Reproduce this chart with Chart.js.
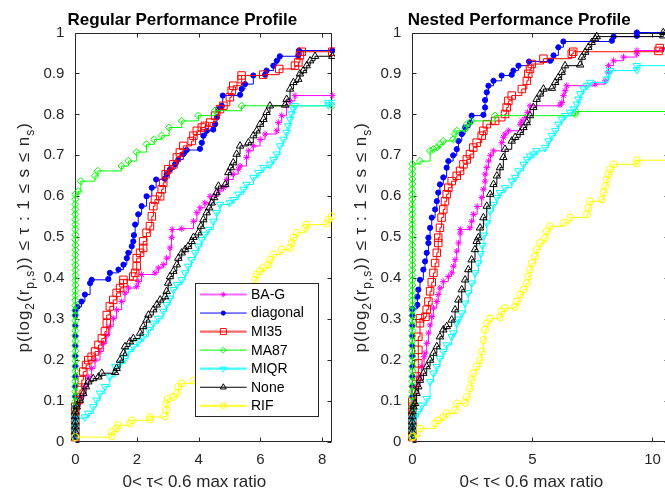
<!DOCTYPE html>
<html><head><meta charset="utf-8">
<script src="https://cdn.jsdelivr.net/npm/chart.js@4"></script>
<style>
html,body{margin:0;padding:0;background:#fff;overflow:hidden;}
#wrap{position:relative;width:665px;height:491px;overflow:hidden;background:#fff;}
.pane{position:absolute;top:0;width:335px;height:491px;}
</style></head><body>
<div id="wrap">
<div class="pane" style="left:0"><canvas id="cl" width="335" height="491"></canvas></div>
<div class="pane" style="left:335px"><canvas id="cr" width="335" height="491"></canvas></div>
</div>
<script>
// ---------- data ----------
const seriesNames = ['BA-G','diagonal','MI35','MA87','MIQR','None','RIF'];
const yTicks = [0,0.1,0.2,0.3,0.4,0.5,0.6,0.7,0.8,0.9,1];
const yTickLabels = ['0','0.1','0.2','0.3','0.4','0.5','0.6','0.7','0.8','0.9','1'];
const xTicksLeft = [0,2,4,6,8];
const xTickLabelsLeft = ['0','2','4','6','8'];
const xTicksRight = [0,5,10];
const xTickLabelsRight = ['0','5','10'];
const xMaxLeft = 8.33;
const xMaxRight = 10.7;
const titleLeft = 'Regular Performance Profile';
const titleRight = 'Nested Performance Profile';
const xLabel = '0< \u03c4< 0.6 max ratio';

// Regular profile
const L_BAG = [[0,0.012],[0,0.025],[0,0.037],[0,0.049],[0,0.062],[0,0.074],[0,0.086],
[0.15,0.11],[0.31,0.135],[0.42,0.159],[0.53,0.18],[0.64,0.2],[0.8,0.221],[0.91,0.241],[1.02,0.261],[1.12,0.282],[1.23,0.302],[1.34,0.323],[1.5,0.343],[1.61,0.364],[1.72,0.376],[1.99,0.38],[2.04,0.392],[2.15,0.409],[2.58,0.413],[2.69,0.425],[2.85,0.433],[2.96,0.449],[3.07,0.474],[3.12,0.499],[3.14,0.519],[3.45,0.521],[3.83,0.539],[3.94,0.56],[4.04,0.572],[4.2,0.584],[4.37,0.6],[4.64,0.613],[4.8,0.621],[4.91,0.641],[5.12,0.654],[5.28,0.666],[5.34,0.674],[5.55,0.695],[5.61,0.711],[5.77,0.723],[5.99,0.739],[6.15,0.752],[6.53,0.76],[6.58,0.78],[6.69,0.797],[6.85,0.821],[6.96,0.833],[7.12,0.846],[8.33,0.846]];
const L_DIAG = [[0,0.012],[0,0.037],[0,0.062],[0,0.086],[0,0.111],[0,0.136],[0,0.16],[0,0.185],[0,0.21],[0,0.235],[0,0.259],[0,0.284],[0,0.309],[0,0.321],
[0.07,0.33],[0.2,0.343],[0.31,0.36],[0.48,0.388],[0.53,0.396],[1.07,0.398],[1.12,0.413],[1.4,0.421],[1.56,0.433],[1.67,0.449],[1.72,0.462],[1.83,0.478],[1.88,0.49],[1.9,0.505],[1.94,0.531],[2.04,0.556],[2.15,0.576],[2.31,0.6],[2.48,0.621],[2.62,0.641],[2.9,0.643],[2.96,0.654],[3.07,0.666],[3.23,0.678],[3.34,0.69],[3.5,0.703],[3.61,0.713],[4.04,0.716],[4.1,0.731],[4.15,0.748],[4.26,0.76],[4.47,0.763],[4.53,0.776],[4.59,0.793],[4.64,0.813],[4.75,0.821],[4.78,0.846],[5.34,0.848],[5.39,0.862],[5.5,0.874],[5.77,0.895],[6.15,0.897],[6.2,0.907],[6.42,0.919],[6.53,0.931],[6.63,0.942],[7.23,0.944],[7.25,0.956],[8.33,0.956]];
const L_MI35 = [[0,0.012],[0,0.025],[0,0.037],[0,0.049],[0,0.062],[0,0.074],[0,0.086],
[0.1,0.102],[0.15,0.127],[0.21,0.151],[0.26,0.172],[0.35,0.188],[0.42,0.2],[0.53,0.208],[0.64,0.221],[0.75,0.237],[0.86,0.253],[0.96,0.27],[1.02,0.29],[1.02,0.31],[1.12,0.331],[1.23,0.347],[1.34,0.364],[1.45,0.376],[1.56,0.388],[1.56,0.396],[1.88,0.404],[1.94,0.413],[1.99,0.429],[1.99,0.449],[2.1,0.462],[2.2,0.474],[2.2,0.49],[2.31,0.511],[2.42,0.527],[2.48,0.551],[2.53,0.576],[2.58,0.592],[2.75,0.6],[2.8,0.617],[2.85,0.633],[2.93,0.654],[3.01,0.666],[3.18,0.678],[3.29,0.695],[3.39,0.707],[3.5,0.723],[3.77,0.735],[3.83,0.748],[3.94,0.76],[4.1,0.768],[4.2,0.772],[4.37,0.78],[4.53,0.797],[4.69,0.813],[4.8,0.821],[5.01,0.842],[5.07,0.858],[5.12,0.87],[5.39,0.886],[5.39,0.895],[6.09,0.897],[6.61,0.911],[7.12,0.919],[7.23,0.927],[7.28,0.944],[7.34,0.953],[8.33,0.953]];
const L_MA87 = [[0,0.012],[0,0.025],[0,0.037],[0,0.049],[0,0.062],[0,0.074],[0,0.086],[0,0.099],[0,0.111],[0,0.123],[0,0.136],[0,0.148],[0,0.16],[0,0.173],[0,0.185],[0,0.198],[0,0.21],[0,0.222],[0,0.235],[0,0.247],[0,0.259],[0,0.272],[0,0.284],[0,0.296],[0,0.309],[0,0.321],[0,0.333],[0,0.346],[0,0.358],[0,0.37],[0,0.383],[0,0.395],[0,0.407],[0,0.42],[0,0.432],[0,0.444],[0,0.457],[0,0.469],[0,0.481],[0,0.494],[0,0.506],[0,0.519],[0,0.531],[0,0.543],[0,0.556],[0,0.568],[0,0.58],[0,0.593],[0,0.605],
[0.1,0.612],[0.18,0.637],[0.64,0.65],[0.73,0.662],[1.5,0.674],[1.72,0.686],[1.99,0.708],[2.31,0.727],[2.56,0.739],[2.8,0.748],[3.04,0.768],[3.45,0.784],[3.99,0.797],[4.53,0.809],[5.39,0.821],[8.33,0.821]];
const L_MIQR = [[0,0.012],[0,0.025],[0,0.037],[0,0.049],[0,0.058],
[0.31,0.061],[0.42,0.07],[0.58,0.086],[0.69,0.102],[0.8,0.119],[0.96,0.135],[1.12,0.159],[1.29,0.184],[1.45,0.192],[1.61,0.204],[1.72,0.221],[1.88,0.233],[2.04,0.245],[2.2,0.257],[2.37,0.274],[2.53,0.29],[2.69,0.302],[2.85,0.319],[2.96,0.335],[3.07,0.351],[3.18,0.372],[3.29,0.384],[3.45,0.396],[3.56,0.413],[3.66,0.429],[3.77,0.445],[3.88,0.462],[3.99,0.478],[4.1,0.494],[4.2,0.507],[4.31,0.519],[4.47,0.539],[4.58,0.56],[4.69,0.58],[5.0,0.584],[5.12,0.592],[5.28,0.605],[5.45,0.617],[5.55,0.629],[5.77,0.646],[5.93,0.658],[6.09,0.67],[6.31,0.678],[6.42,0.69],[6.53,0.703],[6.63,0.723],[6.74,0.739],[6.85,0.756],[6.9,0.772],[6.96,0.788],[7.01,0.801],[7.07,0.813],[7.12,0.821],[8.2,0.823],[8.2,0.829],[8.33,0.829]];
const L_NONE = [[0,0.012],[0,0.025],[0,0.037],[0,0.049],[0,0.062],[0,0.074],
[0.05,0.086],[0.15,0.102],[0.26,0.119],[0.35,0.135],[0.42,0.147],[0.58,0.155],[0.75,0.159],[0.86,0.168],[1.29,0.17],[1.34,0.18],[1.45,0.2],[1.56,0.217],[1.61,0.233],[1.77,0.245],[1.88,0.253],[2.1,0.266],[2.2,0.282],[2.31,0.298],[2.37,0.31],[2.53,0.323],[2.64,0.335],[2.75,0.347],[2.91,0.355],[2.96,0.368],[3.01,0.388],[3.07,0.404],[3.18,0.417],[3.29,0.433],[3.34,0.449],[3.45,0.462],[3.56,0.47],[3.66,0.478],[3.77,0.49],[3.83,0.5],[3.99,0.511],[4.07,0.527],[4.15,0.543],[4.26,0.56],[4.34,0.572],[4.42,0.584],[4.5,0.597],[4.58,0.609],[4.64,0.625],[4.86,0.629],[4.96,0.658],[5.04,0.67],[5.12,0.682],[5.23,0.703],[5.34,0.723],[5.61,0.731],[5.77,0.748],[5.88,0.76],[5.99,0.776],[6.1,0.788],[6.2,0.805],[6.31,0.821],[6.8,0.823],[6.85,0.837],[6.96,0.862],[7.07,0.878],[7.23,0.886],[7.28,0.899],[7.39,0.907],[7.5,0.919],[7.61,0.931],[7.77,0.942],[8.33,0.942]];
const L_RIF = [[0,0.012],[1.18,0.014],[1.18,0.025],[1.34,0.033],[1.39,0.041],[1.77,0.045],[1.83,0.053],[2.42,0.055],[2.42,0.061],[2.9,0.063],[2.96,0.078],[2.96,0.094],[3.0,0.105],[3.18,0.11],[3.29,0.119],[3.34,0.135],[3.45,0.143],[3.83,0.15],[4.0,0.17],[4.3,0.22],[4.6,0.26],[4.9,0.3],[5.2,0.33],[5.5,0.36],[5.83,0.396],[5.88,0.409],[5.99,0.417],[6.09,0.425],[6.26,0.433],[6.31,0.445],[6.42,0.458],[6.69,0.47],[6.96,0.474],[7.01,0.486],[7.07,0.499],[7.18,0.511],[7.45,0.523],[7.5,0.531],[8.15,0.533],[8.2,0.543],[8.31,0.551]];

// Nested profile
const R_BAG = [[0,0.012],[0,0.025],[0,0.037],[0,0.049],[0,0.062],[0,0.074],
[0.05,0.1],[0.15,0.135],[0.25,0.159],[0.39,0.184],[0.49,0.208],[0.53,0.217],[0.6,0.241],[0.67,0.266],[0.74,0.286],[0.81,0.306],[0.88,0.327],[1.02,0.343],[1.08,0.36],[1.15,0.376],[1.29,0.392],[1.5,0.404],[1.64,0.413],[1.71,0.429],[1.78,0.445],[1.85,0.466],[1.92,0.486],[1.99,0.51],[2.0,0.519],[2.4,0.523],[2.47,0.539],[2.54,0.556],[2.7,0.575],[2.89,0.597],[2.96,0.617],[3.03,0.637],[3.03,0.654],[3.1,0.67],[3.17,0.686],[3.25,0.7],[3.38,0.711],[3.72,0.731],[3.79,0.744],[3.86,0.752],[4.0,0.76],[4.49,0.776],[4.56,0.784],[4.7,0.793],[4.8,0.805],[4.9,0.821],[6.15,0.823],[6.22,0.829],[6.29,0.846],[6.36,0.858],[6.43,0.87],[7.61,0.874],[8.03,0.882],[8.17,0.903],[8.17,0.919],[8.38,0.931],[8.79,0.94],[9.35,0.948],[9.35,0.956],[10.46,0.96],[10.7,0.96]];
const R_DIAG = [[0,0.012],[0,0.037],[0,0.062],[0,0.086],[0,0.111],[0,0.136],[0,0.16],[0,0.185],[0,0.21],[0,0.235],[0,0.259],[0,0.284],[0,0.309],[0,0.325],
[0.21,0.335],[0.21,0.355],[0.25,0.372],[0.32,0.396],[0.46,0.421],[0.53,0.441],[0.6,0.462],[0.67,0.486],[0.67,0.499],[0.74,0.523],[0.81,0.548],[0.95,0.568],[1.02,0.588],[1.08,0.609],[1.15,0.629],[1.29,0.646],[1.43,0.67],[1.5,0.686],[1.7,0.7],[1.85,0.715],[1.92,0.735],[2.06,0.752],[2.2,0.768],[2.4,0.78],[2.47,0.797],[2.96,0.799],[3.03,0.817],[3.03,0.835],[3.1,0.854],[3.17,0.87],[3.38,0.882],[3.72,0.895],[4.14,0.897],[4.21,0.907],[4.42,0.919],[4.86,0.929],[5.74,0.931],[5.88,0.944],[6.08,0.964],[6.29,0.978],[8.31,0.98],[8.38,0.99],[9.35,0.992],[9.35,1.0],[10.7,1.0]];
const R_MI35 = [[0,0.012],[0,0.025],[0,0.037],[0,0.049],[0,0.062],[0,0.074],[0,0.086],[0,0.099],
[0.11,0.127],[0.18,0.16],[0.25,0.192],[0.25,0.225],[0.25,0.257],[0.32,0.29],[0.32,0.302],[0.55,0.306],[0.6,0.323],[0.67,0.343],[0.74,0.368],[0.81,0.39],[0.88,0.413],[0.95,0.437],[1.02,0.462],[1.08,0.486],[1.08,0.499],[1.15,0.523],[1.22,0.548],[1.29,0.568],[1.36,0.588],[1.43,0.605],[1.5,0.621],[1.64,0.637],[1.85,0.65],[1.99,0.662],[2.13,0.678],[2.27,0.69],[2.4,0.703],[2.54,0.719],[2.68,0.731],[2.89,0.748],[2.96,0.76],[3.1,0.776],[3.45,0.784],[3.86,0.801],[3.93,0.817],[4.0,0.833],[4.14,0.846],[4.56,0.862],[4.77,0.882],[4.83,0.899],[4.9,0.911],[4.97,0.923],[5.46,0.936],[6.64,0.948],[6.7,0.953],[10.25,0.955],[10.3,0.962],[10.7,0.962]];
const R_MA87 = [[0,0.012],[0,0.025],[0,0.037],[0,0.049],[0,0.062],[0,0.074],[0,0.086],[0,0.099],[0,0.111],[0,0.123],[0,0.136],[0,0.148],[0,0.16],[0,0.173],[0,0.185],[0,0.198],[0,0.21],[0,0.222],[0,0.235],[0,0.247],[0,0.259],[0,0.272],[0,0.284],[0,0.296],[0,0.309],[0,0.321],[0,0.333],[0,0.346],[0,0.358],[0,0.37],[0,0.383],[0,0.395],[0,0.407],[0,0.42],[0,0.432],[0,0.444],[0,0.457],[0,0.469],[0,0.481],[0,0.494],[0,0.506],[0,0.519],[0,0.531],[0,0.543],[0,0.556],[0,0.568],[0,0.58],[0,0.593],[0,0.605],[0,0.617],[0,0.63],[0,0.642],[0,0.654],[0,0.667],[0,0.679],
[0.32,0.686],[0.74,0.711],[0.88,0.715],[1.02,0.719],[1.15,0.727],[1.29,0.735],[1.71,0.739],[1.78,0.752],[1.85,0.76],[2.2,0.764],[2.27,0.776],[2.47,0.784],[3.44,0.797],[6.78,0.801],[6.8,0.807],[10.7,0.807]];
const R_MIQR = [[0,0.012],[0,0.025],[0,0.037],[0,0.049],[0,0.058],
[0.11,0.061],[0.25,0.075],[0.4,0.09],[0.6,0.106],[0.74,0.147],[0.88,0.168],[1.02,0.184],[1.15,0.204],[1.29,0.221],[1.43,0.237],[1.64,0.257],[1.71,0.266],[1.85,0.29],[1.92,0.3],[2.06,0.315],[2.2,0.339],[2.33,0.364],[2.47,0.388],[2.61,0.413],[2.75,0.437],[2.85,0.46],[2.92,0.48],[2.98,0.505],[3.1,0.535],[3.24,0.564],[3.38,0.58],[3.52,0.597],[3.65,0.609],[3.86,0.621],[4.14,0.637],[4.28,0.646],[4.42,0.662],[4.63,0.678],[4.77,0.69],[4.9,0.698],[5.04,0.703],[5.18,0.711],[5.53,0.719],[5.67,0.735],[5.81,0.748],[5.95,0.76],[6.08,0.776],[6.22,0.788],[6.36,0.797],[6.57,0.805],[6.71,0.813],[6.85,0.825],[6.92,0.837],[6.99,0.85],[7.13,0.862],[7.27,0.87],[7.4,0.878],[8.1,0.886],[8.17,0.899],[8.24,0.907],[9.35,0.909],[9.35,0.919],[10.7,0.919]];
const R_NONE = [[0,0.012],[0,0.025],[0,0.037],[0,0.049],[0,0.062],[0,0.074],
[0.05,0.086],[0.11,0.094],[0.18,0.119],[0.25,0.135],[0.32,0.151],[0.46,0.168],[0.6,0.184],[0.74,0.2],[0.88,0.217],[1.02,0.233],[1.15,0.257],[1.29,0.274],[1.43,0.282],[1.64,0.298],[1.78,0.323],[1.92,0.347],[2.06,0.372],[2.2,0.396],[2.33,0.421],[2.47,0.445],[2.61,0.47],[2.68,0.49],[2.75,0.499],[2.82,0.523],[2.96,0.548],[3.1,0.576],[3.24,0.605],[3.38,0.629],[3.52,0.65],[3.65,0.67],[3.79,0.695],[3.86,0.715],[4.14,0.735],[4.28,0.744],[4.49,0.756],[4.63,0.768],[4.77,0.78],[4.9,0.797],[5.04,0.817],[5.18,0.837],[5.32,0.85],[5.46,0.862],[5.81,0.864],[5.95,0.878],[6.08,0.89],[6.22,0.903],[6.36,0.919],[6.99,0.921],[7.06,0.94],[7.2,0.952],[7.33,0.964],[7.47,0.976],[7.61,0.985],[7.68,0.99],[10.45,0.992],[10.45,1.0],[10.7,1.0]];
const R_RIF = [[0,0.012],[0.04,0.014],[0.32,0.033],[0.95,0.045],[1.08,0.053],[1.29,0.061],[1.43,0.07],[1.78,0.078],[1.85,0.094],[2.2,0.096],[2.27,0.11],[2.4,0.131],[2.47,0.151],[2.54,0.168],[2.68,0.184],[2.82,0.2],[2.89,0.221],[2.96,0.249],[3.03,0.274],[3.1,0.29],[3.24,0.302],[3.65,0.305],[3.72,0.319],[3.86,0.327],[4.28,0.33],[4.35,0.343],[4.49,0.36],[4.63,0.372],[4.77,0.388],[4.83,0.404],[4.9,0.421],[4.97,0.437],[5.11,0.453],[5.18,0.47],[5.32,0.486],[5.53,0.499],[5.6,0.515],[5.74,0.527],[6.29,0.535],[6.57,0.548],[7.27,0.556],[7.33,0.572],[7.4,0.588],[7.89,0.592],[7.96,0.609],[8.03,0.625],[8.1,0.641],[8.17,0.654],[8.24,0.666],[8.38,0.678],[9.35,0.68],[9.35,0.688],[10.7,0.688]];

const leftSeries = [L_BAG, L_DIAG, L_MI35, L_MA87, L_MIQR, L_NONE, L_RIF];
const rightSeries = [R_BAG, R_DIAG, R_MI35, R_MA87, R_MIQR, R_NONE, R_RIF];

// ---------- styles ----------
const colors = ['#ff00ff','#0000ff','#ff0000','#00ff00','#00ffff','#000000','#ffff00'];
const legendLineColors = ['rgba(255,0,255,0.6)','#0000ff','rgba(255,0,0,0.6)','#00ff00','rgba(0,255,255,0.75)','#000000','rgba(255,255,0,0.75)'];
const legendLineWidths = [2.2,1,2.2,1,2.2,1,2.2];
const markers = ['star','circle','rect','rectRot','triangle','triangle','circle'];
const markerRot = [0,0,0,0,180,0,0];
const markerSize = [3.2,2.6,5.3,3.6,4.3,4.3,3.5];
const markerFilled = [false,true,false,false,false,false,false];
const FONT = '"Liberation Sans", Arial, Helvetica, sans-serif';
const AX = '#262626';

function makeDatasets(list) {
  return list.map((pts, i) => ({
    label: seriesNames[i],
    data: pts.map(p => ({x: p[0], y: p[1]})),
    borderColor: colors[i],
    backgroundColor: colors[i],
    borderWidth: 1,
    stepped: 'before',
    pointStyle: markers[i],
    pointRotation: markerRot[i],
    pointRadius: markerSize[i],
    pointHoverRadius: markerSize[i],
    pointBorderColor: colors[i],
    pointBackgroundColor: markerFilled[i] ? colors[i] : 'rgba(0,0,0,0)',
    pointBorderWidth: 1,
    clip: false,
    fill: false,
    order: list.length - i
  }));
}

function drawYLabel(ctx, bx, cy) {
  const parts = [['p(log',0],['2',1],['(r',0],['p,s',1],[')) \u2264 \u03c4 : 1 \u2264 s \u2264 n',0],['s',1],[')',0]];
  const mainF = '17px ' + FONT, subF = '12px ' + FONT;
  ctx.save();
  try { ctx.letterSpacing = '1px'; } catch (e) {}
  let total = 0;
  const ws = parts.map(p => { ctx.font = p[1] ? subF : mainF; const w = ctx.measureText(p[0]).width; total += w; return w; });
  ctx.translate(bx, cy);
  ctx.rotate(-Math.PI / 2);
  ctx.fillStyle = AX;
  ctx.textBaseline = 'alphabetic';
  ctx.textAlign = 'left';
  let x = -total / 2;
  parts.forEach((p, i) => { ctx.font = p[1] ? subF : mainF; ctx.fillText(p[0], x, p[1] ? 5 : 0); x += ws[i]; });
  ctx.restore();
}

function makePlugin(cfg) {
  return {
    id: 'decor_' + cfg.name,
    beforeDatasetsDraw(chart) {
      const {ctx, chartArea: a, scales: {x, y}} = chart;
      ctx.save();
      ctx.strokeStyle = AX; ctx.lineWidth = 1;
      const L = Math.round(a.left) + 0.5, R = Math.round(a.right) - 0.5, T = Math.round(a.top) + 0.5, B = Math.round(a.bottom) - 0.5;
      ctx.beginPath();
      ctx.rect(L, T, R - L, B - T);
      const tl = 4;
      cfg.xTicks.forEach(v => { const px = Math.round(x.getPixelForValue(v)) + 0.5; ctx.moveTo(px, B); ctx.lineTo(px, B - tl); ctx.moveTo(px, T); ctx.lineTo(px, T + tl); });
      cfg.yTicks.forEach(v => { const py = Math.round(y.getPixelForValue(v)) + 0.5; ctx.moveTo(L, py); ctx.lineTo(L + tl, py); ctx.moveTo(R, py); ctx.lineTo(R - tl, py); });
      ctx.stroke();
      ctx.restore();
    },
    afterDatasetsDraw(chart) {
      const {ctx, chartArea: a} = chart;
      ctx.save();
      if (cfg.legend) {
        const lx = a.right - 137.3, ly = a.bottom - 159, lw = 123.3, lh = 133;
        ctx.fillStyle = '#ffffff';
        ctx.fillRect(lx, ly, lw, lh);
        ctx.strokeStyle = AX; ctx.lineWidth = 1;
        ctx.strokeRect(Math.round(lx) + 0.5, Math.round(ly) + 0.5, Math.round(lw), Math.round(lh));
        seriesNames.forEach((nm, i) => {
          const ry = ly + 11.5 + i * 18.55;
          ctx.strokeStyle = legendLineColors[i]; ctx.lineWidth = legendLineWidths[i];
          ctx.beginPath(); ctx.moveTo(lx + 5, ry); ctx.lineTo(lx + 51.7, ry); ctx.stroke();
          ctx.strokeStyle = colors[i]; ctx.lineWidth = 1;
          ctx.fillStyle = markerFilled[i] ? colors[i] : 'rgba(0,0,0,0)';
          const opt = {pointStyle: markers[i], radius: markerSize[i] * 0.8, rotation: markerRot[i], borderWidth: 1};
          if (Chart.helpers && Chart.helpers.drawPoint) Chart.helpers.drawPoint(ctx, opt, lx + 28.3, ry);
          ctx.fillStyle = '#000000';
          ctx.font = '14px ' + FONT;
          ctx.textBaseline = 'middle'; ctx.textAlign = 'left';
          ctx.fillText(nm, lx + 56, ry + 0.5);
        });
      }
      ctx.restore();
    },
    afterDraw(chart) {
      const {ctx, chartArea: a} = chart;
      ctx.save();
      ctx.fillStyle = '#000000';
      ctx.font = 'bold 17px ' + FONT;
      ctx.textAlign = 'center'; ctx.textBaseline = 'alphabetic';
      ctx.fillText(cfg.title, a.left + 107, 25);
      ctx.fillStyle = AX;
      ctx.font = '17px ' + FONT;
      ctx.fillText(xLabel, a.left + 119, 487);
      drawYLabel(ctx, a.left - 46, (a.top + a.bottom) / 2);
      ctx.restore();
    }
  };
}

function zeroPad(s) { s.paddingLeft = 0; s.paddingRight = 0; s.paddingTop = 0; s.paddingBottom = 0; }

function makeChart(id, list, cfg) {
  return new Chart(document.getElementById(id), {
    type: 'line',
    data: { datasets: makeDatasets(list) },
    options: {
      responsive: false,
      animation: false,
      events: [],
      layout: { autoPadding: false, padding: { top: 32.5, left: 0, right: cfg.padRight, bottom: 0 } },
      plugins: { legend: { display: false }, tooltip: { enabled: false }, title: { display: false } },
      scales: {
        x: {
          type: 'linear', min: 0, max: cfg.xMax,
          grid: { display: false, drawTicks: false }, border: { display: false },
          afterBuildTicks: s => { s.ticks = cfg.xTicks.map(v => ({value: v})); },
          afterFit: s => { s.height = 49; zeroPad(s); },
          ticks: { autoSkip: false, maxRotation: 0, padding: 9, color: AX, font: { family: FONT, size: 15 },
                   callback: (v, i) => cfg.xTickLabels[i] }
        },
        y: {
          type: 'linear', min: 0, max: 1,
          grid: { display: false, drawTicks: false }, border: { display: false },
          afterBuildTicks: s => { s.ticks = cfg.yTicks.map(v => ({value: v})); },
          afterFit: s => { s.width = cfg.axisLeft; zeroPad(s); },
          ticks: { autoSkip: false, padding: 11, color: AX, font: { family: FONT, size: 15 },
                   callback: (v, i) => yTickLabels[i] }
        }
      }
    },
    plugins: [makePlugin(cfg)]
  });
}

makeChart('cl', leftSeries, { name: 'l', xMax: xMaxLeft, xTicks: xTicksLeft, xTickLabels: xTickLabelsLeft, yTicks: yTicks, padRight: 2.7, axisLeft: 75.3, title: titleLeft, legend: true });
makeChart('cr', rightSeries, { name: 'r', xMax: xMaxRight, xTicks: xTicksRight, xTickLabels: xTickLabelsRight, yTicks: yTicks, padRight: 0.7, axisLeft: 77.3, title: titleRight, legend: false });
</script>
</body></html>
